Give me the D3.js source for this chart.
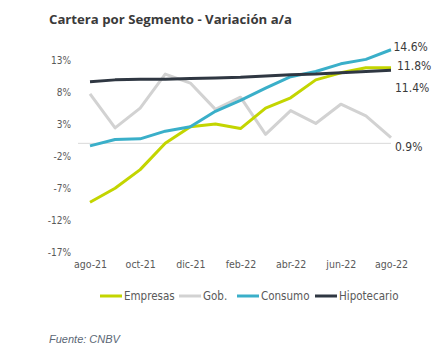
<!DOCTYPE html>
<html><head><meta charset="utf-8">
<script src="https://cdn.jsdelivr.net/npm/d3@7"></script>
<style>
body{margin:0;background:#fff;}
svg{display:block;}
</style></head>
<body>
<svg id="c" width="448" height="364"></svg>
<script>
const months = ["ago-21","sep-21","oct-21","nov-21","dic-21","ene-22","feb-22","mar-22","abr-22","may-22","jun-22","jul-22","ago-22"];
const xTickLabels = ["ago-21","oct-21","dic-21","feb-22","abr-22","jun-22","ago-22"];
const yTicks = [13, 8, 3, -2, -7, -12, -17];
const empresas = [-9.2,-7.0,-4.1,0.0,2.6,3.0,2.3,5.5,7.1,9.9,11.0,11.8,11.8];
const gob = [7.7,2.4,5.5,10.8,9.4,5.3,7.2,1.4,5.1,3.1,6.1,4.3,0.9];
const consumo = [-0.4,0.6,0.7,1.9,2.6,5.0,6.7,8.6,10.4,11.2,12.4,13.1,14.6];
const hipotecario = [9.6,9.9,10.0,10.0,10.1,10.2,10.3,10.5,10.7,10.8,11.0,11.2,11.4];
const seriesNames = ["Empresas","Gob.","Consumo","Hipotecario"];
const endLabels = ["11.8%","0.9%","14.6%","11.4%"];

const colors = {"Empresas":"#c3d500","Gob.":"#d2d2d2","Consumo":"#3aafc9","Hipotecario":"#2f3742"};
const series = [
  {name:"Gob.", values:gob},
  {name:"Empresas", values:empresas},
  {name:"Consumo", values:consumo},
  {name:"Hipotecario", values:hipotecario}
];

const svg = d3.select("#c");
const narrow = "'Liberation Sans Narrow','DejaVu Sans Condensed',sans-serif";

const x = d3.scalePoint().domain(months).range([90, 391]);
const y = d3.scaleLinear().domain([-17, 13]).range([252.3, 60]);

// title
svg.append("text").attr("x", 49).attr("y", 24)
  .attr("font-family","'Open Sans',sans-serif").attr("font-weight",700)
  .attr("font-size",13.2).attr("fill","#3a3a3a")
  .text("Cartera por Segmento - Variación a/a");

// zero line
svg.append("line").attr("x1",78).attr("x2",391)
  .attr("y1",y(0)).attr("y2",y(0))
  .attr("stroke","#d9d9d9").attr("stroke-width",1);

// y axis
const ya = svg.append("g").attr("transform","translate(71,0)")
  .call(d3.axisLeft(y).tickValues(yTicks).tickSize(0).tickPadding(0).tickFormat(d=>d+"%"));
ya.select(".domain").remove();
ya.selectAll("text").attr("font-family",narrow).attr("font-size",10).attr("fill","#595959");

// x axis
const xa = svg.append("g").attr("transform","translate(0,261)")
  .call(d3.axisBottom(x).tickValues(xTickLabels).tickSize(0).tickPadding(0));
xa.select(".domain").remove();
xa.selectAll("text").attr("font-family",narrow).attr("font-size",10.5).attr("fill","#595959");

// lines
const line = d3.line().x((d,i)=>x(months[i])).y(d=>y(d));
svg.append("g").selectAll("path").data(series).join("path")
  .attr("d", d=>line(d.values))
  .attr("fill","none")
  .attr("stroke", d=>colors[d.name])
  .attr("stroke-width",3)
  .attr("stroke-linejoin","round");

// end labels
const labelY = {"Consumo":46.7,"Empresas":65.7,"Hipotecario":87.7,"Gob.":146.7};
const labelX = {"Consumo":393.5,"Empresas":397,"Hipotecario":395,"Gob.":395};
svg.append("g").selectAll("text").data(seriesNames).join("text")
  .attr("x", d=>labelX[d]).attr("y", d=>labelY[d]).attr("dy","0.35em")
  .attr("font-family",narrow).attr("font-size",12).attr("fill","#3a3a3a")
  .text((d,i)=>endLabels[i]);

// legend
const legX = [100,179,237,315];
const lg = svg.append("g").selectAll("g").data(seriesNames).join("g")
  .attr("transform",(d,i)=>`translate(${legX[i]},296)`);
lg.append("line").attr("x1",0).attr("x2",22).attr("y1",0).attr("y2",0)
  .attr("stroke",d=>colors[d]).attr("stroke-width",3);
lg.append("text").attr("x",24).attr("y",0).attr("dy","0.35em")
  .attr("font-family",narrow).attr("font-size",11.5).attr("fill","#595959")
  .text(d=>d);

// source
svg.append("text").attr("x",49).attr("y",343)
  .attr("font-family","'Liberation Sans',Arial,sans-serif").attr("font-style","italic")
  .attr("font-size",11).attr("fill","#5b6775").text("Fuente: CNBV");
</script>
</body></html>
